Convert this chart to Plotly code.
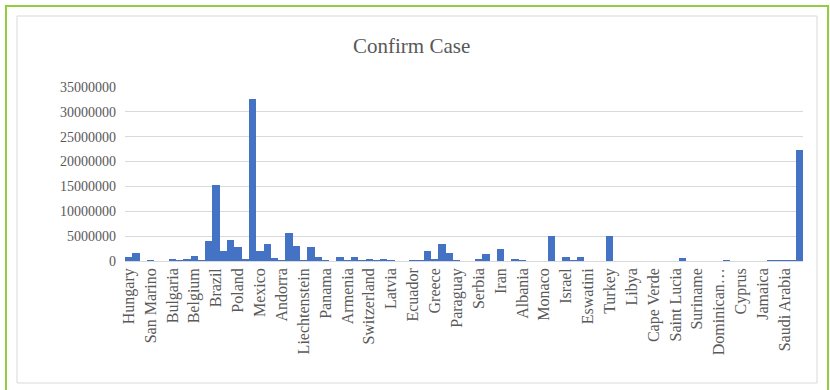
import plotly.graph_objects as go

# Confirmed cases per country; only every third country is labelled on the axis
labels = [
    "Hungary", "San Marino", "Bulgaria", "Belgium", "Brazil", "Poland", "Mexico",
    "Andorra", "Liechtenstein", "Panama", "Armenia", "Switzerland", "Latvia",
    "Ecuador", "Greece", "Paraguay", "Serbia", "Iran", "Albania", "Monaco",
    "Israel", "Eswatini", "Turkey", "Libya", "Cape Verde", "Saint Lucia",
    "Suriname", "Dominican…", "Cyprus", "Jamaica", "Saudi Arabia",
]
label_step = 3

cases = [
    780000, 1550000, 0, 5000, 0, 0, 250000, 60000, 350000, 950000,
    30000, 3950000, 15200000, 2000000, 4300000, 2800000, 300000, 32500000, 2100000, 3450000,
    700000, 30000, 5700000, 2950000, 3000, 2900000, 900000, 50000, 0, 850000,
    100000, 800000, 50000, 500000, 50000, 450000, 100000, 0, 0, 150000,
    200000, 2100000, 350000, 3400000, 1600000, 50000, 0, 0, 300000, 1500000,
    0, 2450000, 0, 450000, 100000, 0, 0, 0, 4950000, 0,
    750000, 50000, 850000, 0, 0, 0, 4950000, 0, 0, 0,
    0, 0, 0, 0, 0, 0, 700000, 0, 0, 0,
    0, 0, 150000, 0, 0, 0, 0, 0, 80000, 100000,
    100000, 100000, 22300000,
]

y_ticks = [0, 5000000, 10000000, 15000000, 20000000, 25000000, 30000000, 35000000]

W, H = 830, 390
L, R, T, B = 125, 27, 87, 129
PW, PH = W - L - R, H - T - B


def px(x):
    return (x - L) / PW


def py(y):
    return (H - B - y) / PH


serif = "Liberation Serif, Times New Roman, serif"
grey = "#595959"

fig = go.Figure(
    go.Bar(
        x=list(range(len(cases))),
        y=cases,
        marker=dict(color="#4472C4", line=dict(width=0)),
        hoverinfo="x+y",
    )
)

fig.update_layout(
    width=W,
    height=H,
    margin=dict(l=L, r=R, t=T, b=B, pad=0),
    paper_bgcolor="white",
    plot_bgcolor="white",
    bargap=0,
    showlegend=False,
    font=dict(family=serif, color=grey),
    shapes=[
        # outer frame
        dict(type="rect", xref="paper", yref="paper",
             x0=px(6), x1=px(828), y0=py(6), y1=py(395),
             line=dict(color="#8fce3c", width=2), fillcolor="rgba(0,0,0,0)", layer="below"),
        # chart area border
        dict(type="rect", xref="paper", yref="paper",
             x0=px(17), x1=px(817), y0=py(16), y1=py(383),
             line=dict(color="#d9d9d9", width=1), fillcolor="rgba(0,0,0,0)", layer="below"),
    ],
    annotations=[
        dict(text="Confirm Case", xref="paper", yref="paper",
             x=px(411), y=py(46), xanchor="center", yanchor="middle",
             showarrow=False, font=dict(family=serif, size=21, color=grey)),
    ],
)

fig.update_xaxes(
    range=[-0.5, len(cases) - 0.5],
    tickmode="array",
    tickvals=list(range(0, len(cases), label_step))[: len(labels)],
    ticktext=labels,
    tickangle=-90,
    tickfont=dict(family=serif, size=16, color=grey),
    showgrid=False,
    zeroline=False,
    showline=False,
    ticks="",
    ticklabelstandoff=3,
)

fig.update_yaxes(
    range=[0, 35000000],
    tickmode="array",
    tickvals=y_ticks,
    ticktext=[str(v) for v in y_ticks],
    tickfont=dict(family=serif, size=14, color=grey),
    showgrid=True,
    gridcolor="#d9d9d9",
    gridwidth=1,
    zeroline=True,
    zerolinecolor="#d9d9d9",
    zerolinewidth=1,
    showline=False,
    ticks="",
    ticklabelstandoff=8,
)

fig.write_html("out.html")
